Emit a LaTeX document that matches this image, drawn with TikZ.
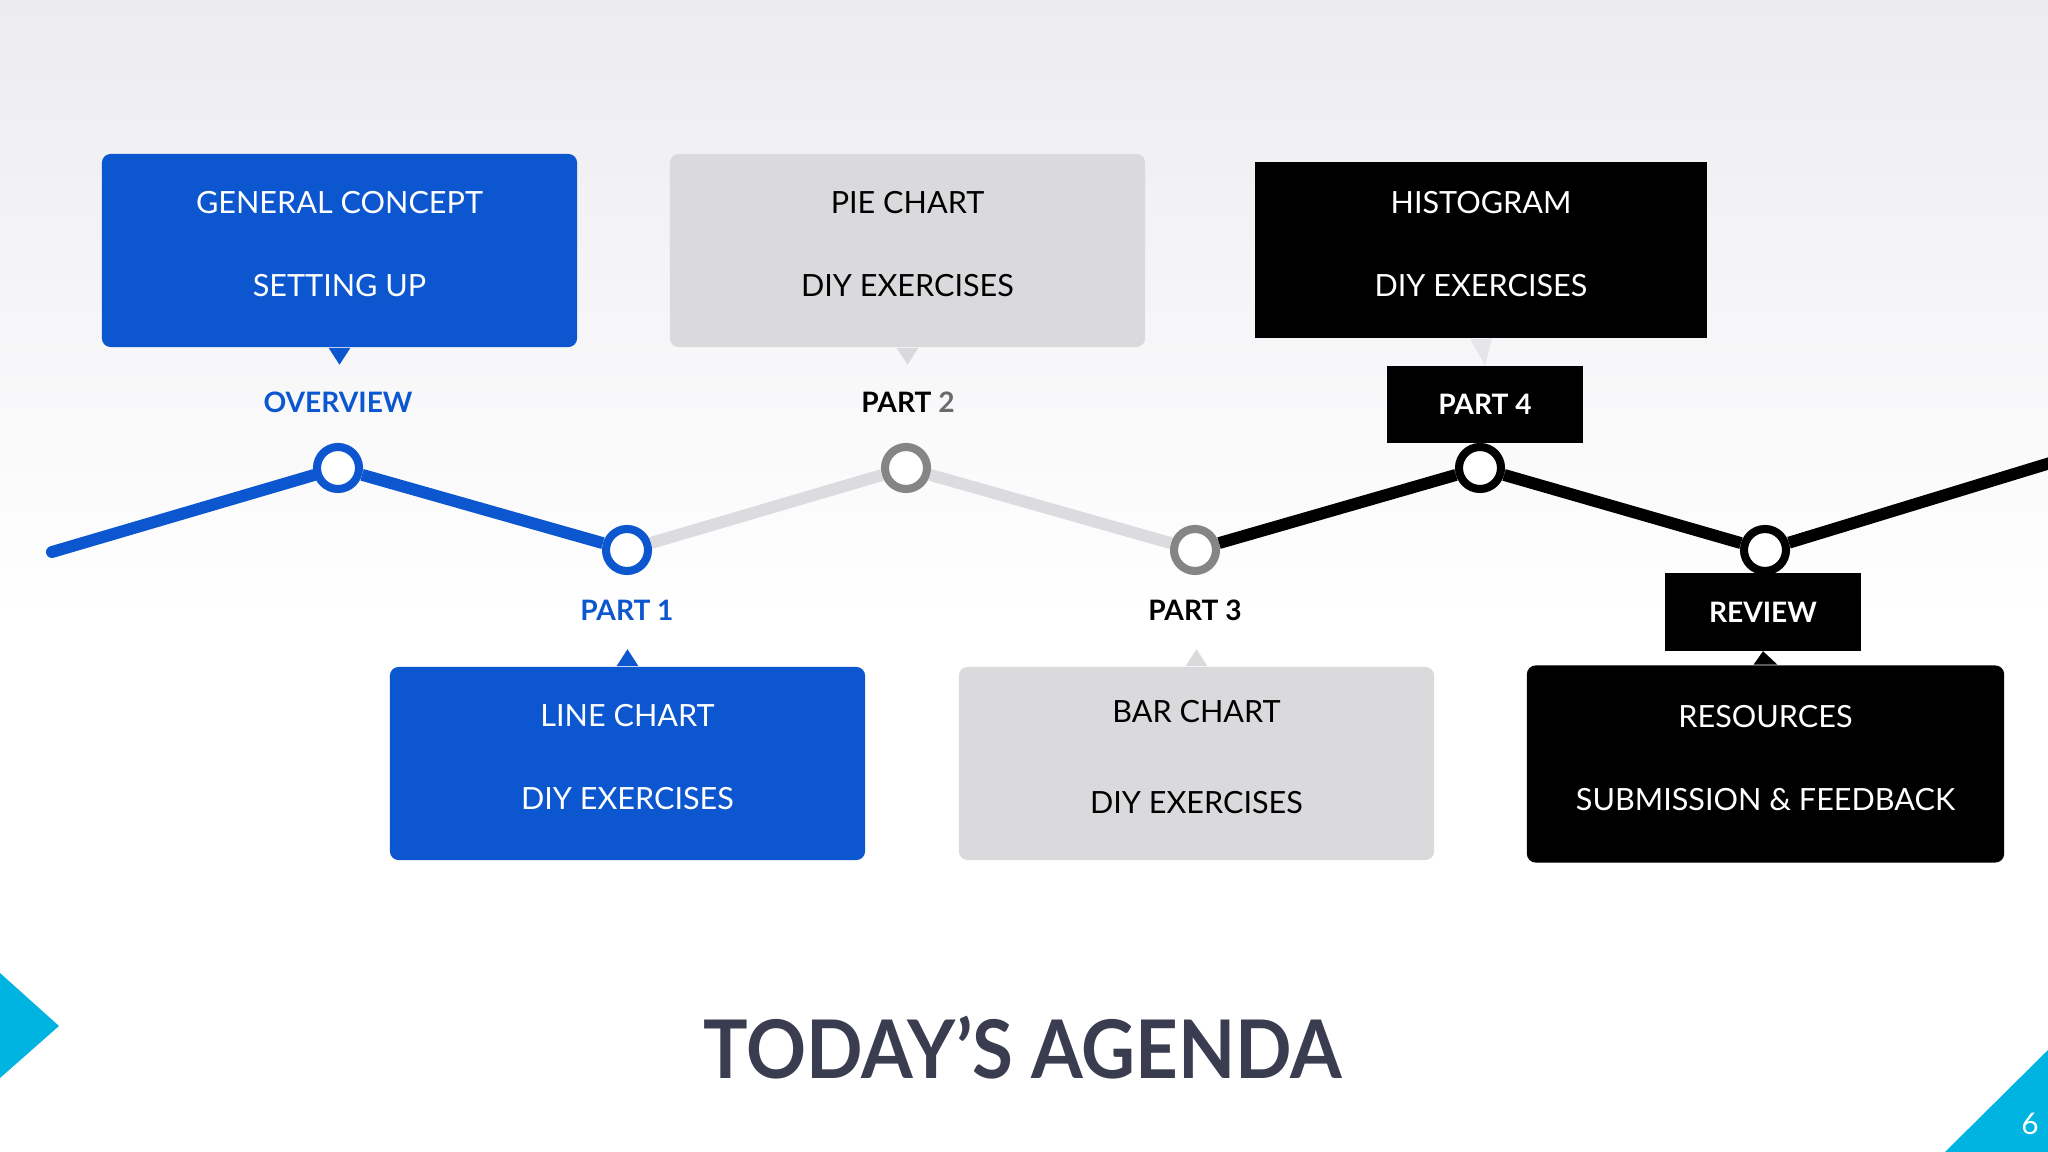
\documentclass[tikz,border=0pt]{standalone}
\usepackage{fontspec}
\setmainfont{Lato}
\usepackage{graphicx}
\usepackage{tikz}
\usetikzlibrary{positioning, calc}
\definecolor{agendablue}{HTML}{0C57CF}
\definecolor{boxgray}{HTML}{DADADD}
\definecolor{linegray}{HTML}{DCDCE0}
\definecolor{ringgray}{HTML}{858585}
\definecolor{numgray}{HTML}{6B6B6B}
\definecolor{titlegray}{HTML}{3A3D4F}
\definecolor{accentcyan}{HTML}{00B4E1}
\definecolor{bgtop}{HTML}{ECECF0}
\definecolor{faintgray}{HTML}{E6E6EA}

\begin{document}
\begin{tikzpicture}[x=0.01cm, y=-0.01cm,
  topic/.style={rectangle, rounded corners=2.5pt, minimum width=4.75cm,
                minimum height=1.93cm, inner sep=0pt, align=center, text depth=3.7pt,
                font=\fontsize{8.7}{23.6}\selectfont},
  parttag/.style={font=\bfseries\fontsize{8}{10}\selectfont},
  tagbox/.style={rectangle, fill=black, text=white, minimum width=1.95cm,
                 minimum height=0.77cm, inner sep=0pt,
                 font=\bfseries\fontsize{8}{10}\selectfont},
  milestone/.style={circle, line width=2.3pt, fill=white, minimum size=0.42cm,
                    inner sep=0pt},
  trackline/.style={line width=3.4pt}
]
  \useasboundingbox (0,0) rectangle (2048,1152);
  \fill[top color=bgtop, bottom color=white] (0,0) rectangle (2048,620);
  \fill[white] (0,620) rectangle (2048,1152);

  % corner accents
  \fill[accentcyan] (0,973) -- (59,1026) -- (0,1078) -- cycle;
  \fill[accentcyan] (1945,1152) -- (2048,1050) -- (2048,1152) -- cycle;
  \node[text=white, font=\fontsize{8.5}{10}\selectfont] (pagenum) at (2030,1124) {6};

  \node[text=titlegray, font=\bfseries\fontsize{23}{28}\selectfont] (title) at (1023,1048)
    {\scalebox{0.92}[1]{TODAY’S AGENDA}};

  % milestones on the track
  \node[milestone, draw=agendablue] (ov) at (338,468)  {};
  \node[milestone, draw=agendablue] (p1) at (627,550)  {};
  \node[milestone, draw=ringgray]   (p2) at (906,468)  {};
  \node[milestone, draw=ringgray]   (p3) at (1195,550) {};
  \node[milestone, draw=black]      (p4) at (1480,468) {};
  \node[milestone, draw=black]      (rv) at (1765,550) {};
  \coordinate (lstart) at (52,552);
  \coordinate (lend)   at (2060,460);

  \draw[trackline, agendablue, line cap=round] (lstart) -- (ov);
  \draw[trackline, agendablue] (ov) -- (p1);
  \draw[trackline, linegray] (p1) -- (p2);
  \draw[trackline, linegray] (p2) -- (p3);
  \draw[trackline, black] (p3) -- (p4);
  \draw[trackline, black] (p4) -- (rv);
  \draw[trackline, black] (rv) -- (lend);

  % topic boxes
  \node[topic, fill=agendablue, text=white] (concept) at (339.5,250.5) {GENERAL CONCEPT\\SETTING UP};
  \node[topic, fill=boxgray] (pie) at (907.5,250.5) {PIE CHART\\DIY EXERCISES};
  \node[topic, fill=black, text=white, rounded corners=0pt, minimum width=4.52cm,
        minimum height=1.76cm] (hist) at (1481,250) {HISTOGRAM\\DIY EXERCISES};
  \node[topic, fill=agendablue, text=white] (linechart) at (627.5,763.5) {LINE CHART\\DIY EXERCISES};
  \node[topic, fill=boxgray] (barchart) at (1196.5,763.5) {BAR CHART\\[2.3pt]DIY EXERCISES};
  \node[topic, fill=black, text=white, minimum width=4.77cm,
        minimum height=1.97cm] (resources) at (1765.5,764) {RESOURCES\\SUBMISSION \& FEEDBACK};

  % part labels
  \node[parttag, text=agendablue] (overview) at (338,402) {OVERVIEW};
  \node[parttag] (part2) at (908,402) {PART \textcolor{numgray}{2}};
  \node[parttag, text=agendablue] (part1) at (627,610) {PART 1};
  \node[parttag] (part3) at (1195,610) {PART 3};
  \node[tagbox] (part4)  at (1485,404.5) {PART 4};
  \node[tagbox] (review) at (1763,612) {REVIEW};

  % callout tips
  \fill[agendablue] ($(concept.south)+(-11,0)$) -- ($(concept.south)+(11,0)$) -- ($(concept.south)+(0,17)$) -- cycle;
  \fill[boxgray] ($(pie.south)+(-11,0)$) -- ($(pie.south)+(11,0)$) -- ($(pie.south)+(0,17)$) -- cycle;
  \fill[faintgray] ($(hist.south)+(-11,0)$) -- ($(hist.south)+(11,0)$) -- (part4.north) -- cycle;
  \fill[agendablue] ($(linechart.north)+(-11,0)$) -- ($(linechart.north)+(11,0)$) -- ($(linechart.north)+(0,-17)$) -- cycle;
  \fill[boxgray] ($(barchart.north)+(-11,0)$) -- ($(barchart.north)+(11,0)$) -- ($(barchart.north)+(0,-17)$) -- cycle;
  \fill[black] ($(resources.north)+(-12,0)$) -- ($(resources.north)+(12,0)$) -- (review.south) -- cycle;
\end{tikzpicture}
\end{document}
